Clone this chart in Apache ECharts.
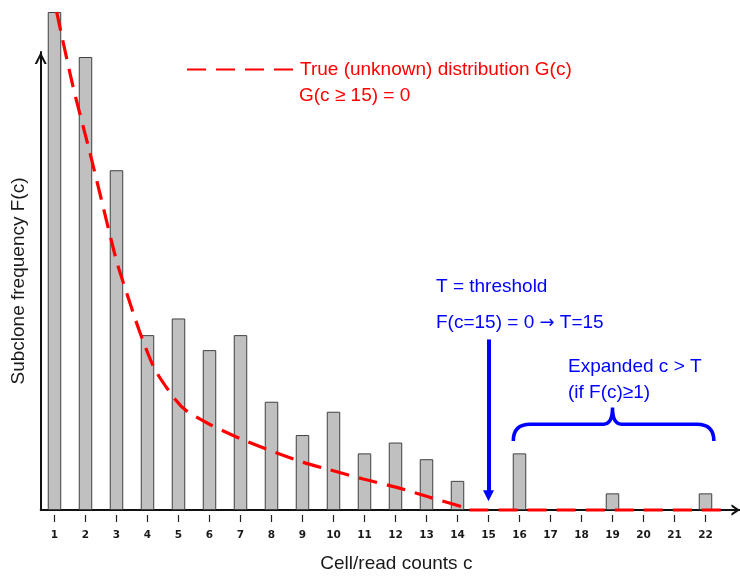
<!DOCTYPE html>
<html>
<head>
<meta charset="utf-8">
<title>Subclone frequency F(c)</title>
<script src="https://cdn.jsdelivr.net/npm/echarts@6/dist/echarts.min.js"></script>
<style>
  html, body { margin: 0; padding: 0; background: #fff; }
  #chart { width: 740px; height: 578px; }
</style>
</head>
<body>
<div id="chart"></div>
<script>
// Observed subclone frequency F(c) per cell/read count c
const counts = [1, 2, 3, 4, 5, 6, 7, 8, 9, 10, 11, 12, 13, 14, 15, 16, 17, 18, 19, 20, 21, 22];
const freq = [29.9, 27.2, 20.4, 10.5, 11.5, 9.6, 10.5, 6.5, 4.5, 5.9, 3.4, 4.05, 3.05, 1.75, 0, 3.4, 0, 0, 1, 0, 0, 1];

// True (unknown) distribution G(c), sampled along the curve
const curveC = [1.07, 1.6, 2.15, 2.98, 3.22, 3.76, 4.24, 4.89, 5.26, 6.0, 6.98, 7.85, 9.03, 9.89, 10.96, 12.04, 13.11, 14.19, 14.3, 22.8];
const curveG = [29.9, 25.4, 21.4, 15.1, 13.65, 10.64, 8.44, 6.65, 5.95, 5.15, 4.29, 3.65, 2.86, 2.41, 1.86, 1.36, 0.76, 0.16, 0, 0];

// Threshold arrow at c = T, and the brace over the expanded region c > T
const threshold = 15;
const arrowFromTo = [10.24, 0.86];
const braceSpan = [15.8, 22.27, 19.0];
const braceLevels = [4.15, 5.15, 6.15];

const xRange = [0.555, 23.113];
const yRange = [0, 27.5];

const FONT = 'Liberation Sans, Arial, sans-serif';
const RED = '#ff0000';
const BLUE = '#0000ff';
const AXIS = '#111111';

// Open chevron arrowheads for the axis ends (tip at top, rotated by ECharts)
const chevronX = 'path://M5.65,0L11.3,8.5L8.91,8.5L5.65,3.6L2.39,8.5L0,8.5Z';
const chevronY = 'path://M6,0L12,12L9.76,12L6,4.47L2.24,12L0,12Z';

const chart = echarts.init(document.getElementById('chart'), null, { renderer: 'canvas' });

const barData = [];
counts.forEach((c, i) => { if (freq[i] > 0) barData.push([c, freq[i]]); });
const curveData = curveC.map((c, i) => [c, curveG[i]]);

const option = {
  animation: false,
  backgroundColor: '#ffffff',
  grid: { left: 40.7, right: 0, top: 52, bottom: 67 },
  legend: {
    left: 186,
    top: 60,
    padding: 0,
    selectedMode: false,
    itemWidth: 108,
    itemHeight: 14,
    itemStyle: { opacity: 0 },
    textStyle: { color: RED, fontSize: 19, fontFamily: FONT },
    data: ['True (unknown) distribution G(c)']
  },
  xAxis: [
    {
      type: 'value',
      min: xRange[0],
      max: xRange[1],
      axisLine: {
        show: true,
        lineStyle: { color: AXIS, width: 2 },
        symbol: ['none', chevronX],
        symbolSize: [11.3, 8.5],
        symbolOffset: [0, -4.25]
      },
      axisTick: { show: false },
      axisLabel: { show: false },
      splitLine: { show: false },
      name: 'Cell/read counts c',
      nameLocation: 'middle',
      nameGap: 44,
      nameTextStyle: { color: '#1a1a1a', fontSize: 19, fontFamily: FONT, padding: [0, 0, 0, 12] }
    },
    {
      type: 'value',
      position: 'bottom',
      offset: 5,
      min: xRange[0],
      max: xRange[1],
      axisLine: { show: false },
      axisTick: { show: true, length: 7, customValues: counts, lineStyle: { color: '#222', width: 1.2 } },
      axisLabel: {
        show: true,
        customValues: counts,
        margin: 15,
        color: '#1a1a1a',
        fontSize: 10.5,
        fontWeight: 'bold',
        fontFamily: 'DejaVu Sans, sans-serif'
      },
      splitLine: { show: false }
    }
  ],
  yAxis: {
    type: 'value',
    min: yRange[0],
    max: yRange[1],
    axisLine: {
      show: true,
      lineStyle: { color: AXIS, width: 2 },
      symbol: ['none', chevronY],
      symbolSize: [12, 12],
      symbolOffset: [0, -6]
    },
    axisTick: { show: false },
    axisLabel: { show: false },
    splitLine: { show: false },
    name: 'Subclone frequency F(c)',
    nameLocation: 'middle',
    nameGap: 12,
    nameTextStyle: { color: '#1a1a1a', fontSize: 19, fontFamily: FONT }
  },
  series: [
    {
      name: 'F(c)',
      type: 'bar',
      xAxisIndex: 0,
      barWidth: 13.5,
      clip: false,
      itemStyle: { color: '#c0c0c0', borderColor: '#404040', borderWidth: 1 },
      emphasis: { disabled: true },
      data: barData,
      markLine: {
        silent: true,
        symbol: ['none', 'triangle'],
        symbolSize: [11, 11],
        label: { show: false },
        emphasis: { disabled: true },
        lineStyle: { color: BLUE, width: 4, type: 'solid' },
        data: [[{ coord: [threshold, arrowFromTo[0]] }, { coord: [threshold, arrowFromTo[1]] }]]
      }
    },
    {
      name: 'True (unknown) distribution G(c)',
      type: 'line',
      xAxisIndex: 0,
      clip: false,
      smooth: 0.25,
      showSymbol: false,
      symbol: 'none',
      z: 5,
      lineStyle: { color: RED, width: 3.2, type: [19, 10] },
      itemStyle: { color: RED },
      emphasis: { disabled: true },
      data: curveData
    },
    {
      name: 'brace',
      type: 'custom',
      xAxisIndex: 0,
      clip: false,
      silent: true,
      data: [[braceSpan[0], braceSpan[1], braceSpan[2], braceLevels[0], braceLevels[1], braceLevels[2]]],
      renderItem: function (params, api) {
        const pl = api.coord([api.value(0), api.value(3)]);
        const pr = api.coord([api.value(1), api.value(3)]);
        const pm = api.coord([api.value(2), api.value(5)]);
        const yh = api.coord([api.value(0), api.value(4)])[1];
        const r = 17, r2 = 9;
        const d = [
          'M', pl[0], pl[1],
          'Q', pl[0], yh, pl[0] + r, yh,
          'L', pm[0] - r2, yh,
          'Q', pm[0], yh, pm[0], pm[1],
          'Q', pm[0], yh, pm[0] + r2, yh,
          'L', pr[0] - r, yh,
          'Q', pr[0], yh, pr[0], pr[1]
        ].join(' ');
        return {
          type: 'path',
          shape: { pathData: d },
          style: { stroke: BLUE, lineWidth: 3.5, fill: 'none' }
        };
      }
    }
  ],
  graphic: [
    { type: 'text', x: 299, y: 96, style: { text: 'G(c \u2265 15) = 0', fill: RED, font: '19px ' + FONT, verticalAlign: 'middle' } },
    { type: 'text', x: 436, y: 287, style: { text: 'T = threshold', fill: BLUE, font: '19px ' + FONT, verticalAlign: 'middle' } },
    {
      type: 'text', x: 436, y: 323,
      style: {
        text: 'F(c=15) = 0 {arr|\u2192} T=15',
        fill: BLUE, font: '19px ' + FONT, verticalAlign: 'middle',
        rich: { arr: { fontFamily: 'DejaVu Sans', fontSize: 18, fill: BLUE } }
      }
    },
    { type: 'text', x: 568, y: 367, style: { text: 'Expanded c > T', fill: BLUE, font: '19px ' + FONT, verticalAlign: 'middle' } },
    { type: 'text', x: 568, y: 393, style: { text: '(if F(c)\u22651)', fill: BLUE, font: '19px ' + FONT, verticalAlign: 'middle' } }
  ]
};

chart.setOption(option);
</script>
</body>
</html>
